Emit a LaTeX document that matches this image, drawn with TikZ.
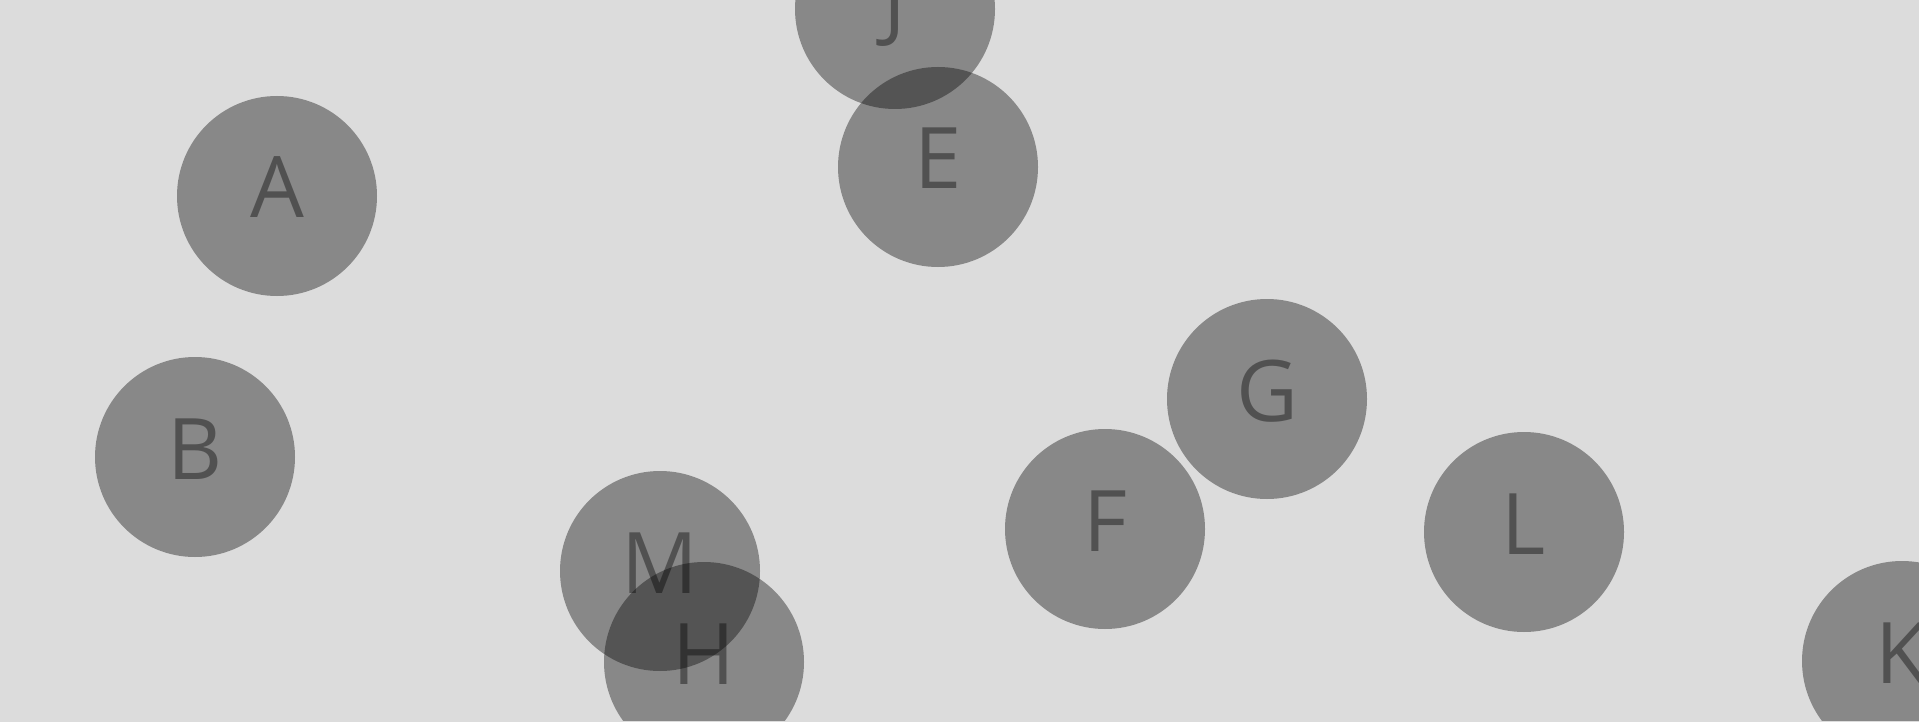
\documentclass[tikz,border=0pt]{standalone}
\usepackage{fontspec}
\setmainfont{Open Sans}
\definecolor{canvasgrey}{HTML}{DCDCDC}
\tikzset{blob/.style={circle,fill=black,fill opacity=.38,text=black,text opacity=.4,minimum size=200pt,inner sep=0pt,font=\fontsize{85}{85}\selectfont,text height=61pt,text depth=17pt}}
\begin{document}
\begin{tikzpicture}[x=1pt,y=-1pt]
\fill[canvasgrey] (0,0) rectangle (1919,722);
\useasboundingbox (0,0) rectangle (1919,722);
\begin{scope}
\clip (0,0) rectangle (1919,720);
\foreach \n/\x/\y in {J/895/9,E/938/167,A/277/196,B/195/457,M/660/571,H/704/662,F/1105/529,G/1267/399,L/1524/532,K/1902/661}{\node[blob] (\n) at (\x,\y) {\n};}
\end{scope}
\end{tikzpicture}
\end{document}
